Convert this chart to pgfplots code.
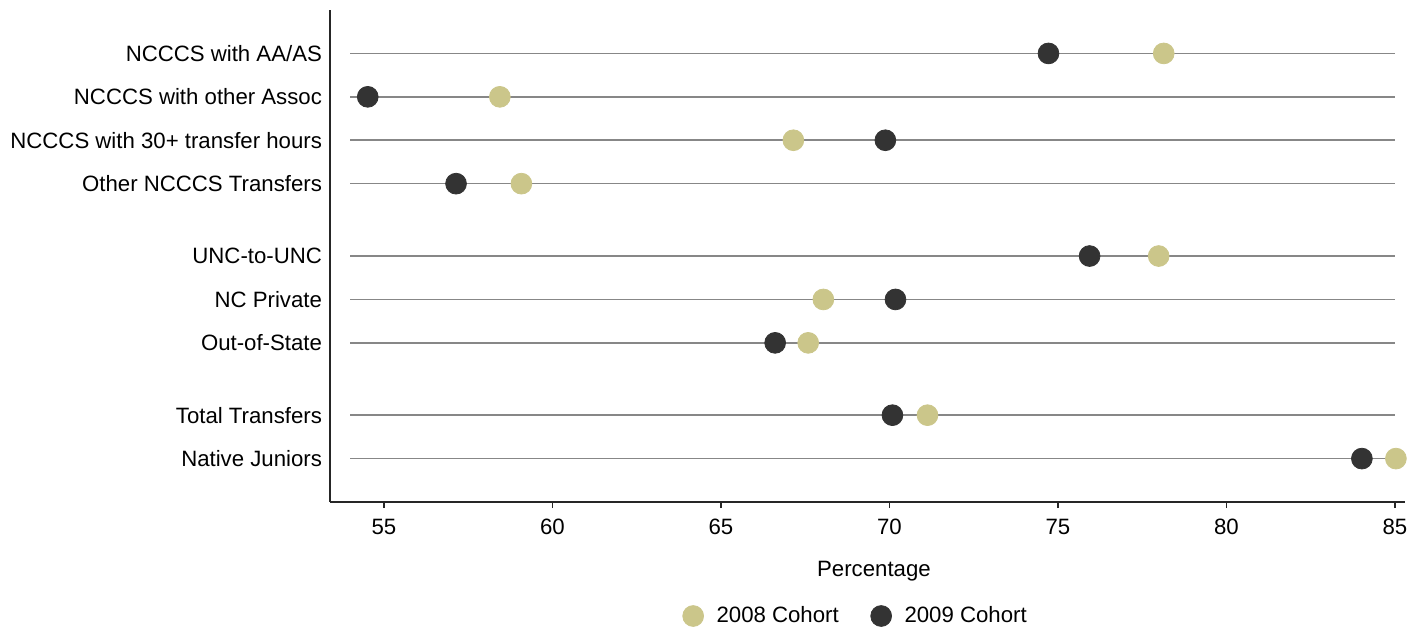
\documentclass[border=0pt]{standalone}
\usepackage{fontspec}
\setmainfont{Liberation Sans}
\usepackage{pgfplots}
\pgfplotsset{compat=1.18}
\definecolor{c2008}{RGB}{203,198,138}
\definecolor{c2009}{RGB}{51,51,51}
\definecolor{rowline}{RGB}{135,135,135}
\begin{document}
\begin{tikzpicture}[x=1pt,y=1pt]
\useasboundingbox (-165pt,-62.5pt) rectangle (540.5pt,251pt);
\begin{axis}[
  at={(0pt,0pt)}, anchor=south west,
  width=537.5pt, height=246pt, scale only axis,
  font=\fontsize{11.1}{13}\selectfont,
  /pgf/number format/assume math mode=true,
  xmin=53.4, xmax=85.3,
  ymin=-1, ymax=10.333, y dir=reverse,
  axis x line*=bottom, axis y line*=left,
  axis line style={line width=0.8pt, color=black!85},
  xtick={55,60,65,70,75,80,85},
  tick align=outside, major tick length=3pt,
  x tick style={line width=0.8pt, color=black!85},
  ytick={0,1,2,3,4.667,5.667,6.667,8.333,9.333},
  yticklabels={NCCCS with AA/AS,NCCCS with other Assoc,NCCCS with 30+ transfer hours,Other NCCCS Transfers,UNC-to-UNC,NC Private,Out-of-State,Total Transfers,Native Juniors},
  y tick style={draw=none},
  yticklabel style={xshift=2.5pt},
  xticklabel style={yshift=-2pt},
  xlabel={Percentage},
  xlabel style={at={(axis description cs:0.506,0)}, anchor=center, yshift=-34.5pt},
  legend style={at={(axis description cs:0.49,0)}, anchor=center, yshift=-57pt, draw=none, legend columns=2,
    /tikz/every odd column/.append style={column sep=4.5pt},
    /tikz/every even column/.append style={column sep=14pt},
    font=\fontsize{11.1}{13}\selectfont},
  legend cell align=left,
  clip=false,
]
\pgfplotsinvokeforeach{0,1,2,3,4.667,5.667,6.667,8.333,9.333}{
  \addplot[rowline, line width=0.75pt, forget plot] coordinates {(54,#1) (85,#1)};
}
\addplot[only marks, mark=*, mark size=5.2pt, mark options={fill=c2008, draw=c2008}] coordinates {
(78.14,0) (58.44,1) (67.15,2) (59.08,3) (77.99,4.667) (68.04,5.667) (67.59,6.667) (71.13,8.333) (85.03,9.333)};
\addlegendentry{2008 Cohort}
\addplot[only marks, mark=*, mark size=5.2pt, mark options={fill=c2009, draw=c2009}] coordinates {
(74.72,0) (54.52,1) (69.88,2) (57.14,3) (75.94,4.667) (70.18,5.667) (66.61,6.667) (70.09,8.333) (84.02,9.333)};
\addlegendentry{2009 Cohort}
\end{axis}
\end{tikzpicture}
\end{document}
